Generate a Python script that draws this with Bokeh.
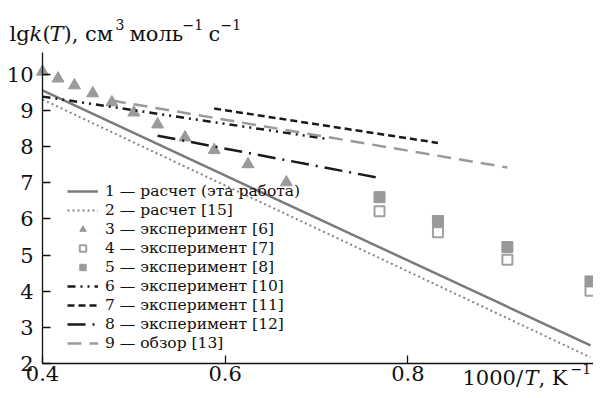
from bokeh.plotting import figure
from bokeh.models import Legend, LegendItem, Label, FixedTicker, Range1d
from bokeh.embed import file_html
from bokeh.resources import INLINE

# ---- data ----
x_calc = [0.4, 1.0]
y_calc1 = [9.55, 2.5]          # 1 — расчет (эта работа)
y_calc2 = [9.3, 2.17]          # 2 — расчет [15]

x_tri = [0.400, 0.417, 0.435, 0.455, 0.476, 0.500, 0.526, 0.556, 0.588, 0.625, 0.667]
y_tri = [10.07, 9.88, 9.69, 9.47, 9.22, 8.94, 8.61, 8.25, 7.90, 7.51, 7.01]   # 3

x_sq = [0.769, 0.833, 0.909, 1.0]
y_open = [6.21, 5.63, 4.87, 4.01]   # 4
y_fill = [6.60, 5.94, 5.22, 4.27]   # 5

x6 = [0.4, 0.714]
y6 = [9.38, 8.2]
x7 = [0.588, 0.833]
y7 = [9.05, 8.1]
x8 = [0.526, 0.769]
y8 = [8.3, 7.13]
x9 = [0.476, 0.909]
y9 = [9.27, 7.42]

labels = [
    "1 — расчет (эта работа)",
    "2 — расчет [15]",
    "3 — эксперимент [6]",
    "4 — эксперимент [7]",
    "5 — эксперимент [8]",
    "6 — эксперимент [10]",
    "7 — эксперимент [11]",
    "8 — эксперимент [12]",
    "9 — обзор [13]",
]
x_ticks = [0.4, 0.6, 0.8]
y_ticks = [2, 3, 4, 5, 6, 7, 8, 9, 10]

FONT = "DejaVu Serif"
W, H = 593, 390

p = figure(width=W, height=H, x_range=Range1d(0.354, 1.0033), y_range=Range1d(1.2533, 12.038),
           output_backend="svg", toolbar_location=None,
           min_border_left=0, min_border_right=0, min_border_top=0, min_border_bottom=0)
p.outline_line_color = None
p.grid.visible = False
p.background_fill_color = "white"

for ax in (p.xaxis[0], p.yaxis[0]):
    ax.axis_line_color = "#111111"
    ax.axis_line_width = 1.3
    ax.major_tick_line_color = "#111111"
    ax.major_tick_line_width = 1.3
    ax.major_tick_in = 8
    ax.major_tick_out = 0
    ax.minor_tick_line_color = None
    ax.major_label_text_font = FONT
    ax.major_label_text_font_size = "21px"
    ax.major_label_text_color = "#111111"

xa, ya = p.xaxis[0], p.yaxis[0]
xa.ticker = FixedTicker(ticks=x_ticks)
ya.ticker = FixedTicker(ticks=y_ticks)
xa.fixed_location = y_ticks[0]
ya.fixed_location = x_ticks[0]
xa.bounds = (0.4, 1.0033)
ya.bounds = (2, 10.6)
xa.major_label_standoff = 3
ya.major_label_standoff = 9
xa.major_label_overrides = {0.4: "0.4", 0.6: "0.6", 0.8: "0.8"}

r1 = p.line(x_calc, y_calc1, line_color="#7a7a7a", line_width=2.5)
r2 = p.line(x_calc, y_calc2, line_color="#858585", line_width=2, line_dash="2 3")
r3 = p.scatter(x_tri, y_tri, marker="triangle", size=12, fill_color="#9a9a9a", line_color="#9a9a9a")
r4 = p.scatter(x_sq, y_open, marker="square", size=10, fill_color="white", line_color="#a0a0a0", line_width=2)
r5 = p.scatter(x_sq, y_fill, marker="square", size=11, fill_color="#999999", line_color="#999999")
r6 = p.line(x6, y6, line_color="#1a1a1a", line_width=2.5, line_dash="8 5 2 5 2 5")
r7 = p.line(x7, y7, line_color="#1a1a1a", line_width=2.5, line_dash="7 4")
r8 = p.line(x8, y8, line_color="#1a1a1a", line_width=2.5, line_dash="18 7 2 7")
r9 = p.line(x9, y9, line_color="#9a9a9a", line_width=2.5, line_dash="14 8")

rs = [r1, r2, r3, r4, r5, r6, r7, r8, r9]
legend = Legend(items=[LegendItem(label=l, renderers=[r]) for l, r in zip(labels, rs)],
                location=(67, 38), padding=0, margin=0, spacing=0,
                label_height=19, glyph_height=16, glyph_width=31, label_standoff=7,
                label_text_font=FONT, label_text_font_size="15.5px", label_text_color="#111111",
                background_fill_alpha=0, border_line_alpha=0)
p.add_layout(legend, "center")

def lab(text, px, py, size, style="normal"):
    # px, py: picture pixel position (left, baseline); frame covers the canvas
    p.add_layout(Label(x=px, y=H - py, x_units="screen", y_units="screen",
                       text=text, text_font=FONT, text_font_size=size, text_font_style=style,
                       text_color="#111111", text_baseline="alphabetic", text_align="left"))

# y-axis title: lgk(T), см3 моль-1 с-1
TB = 33
lab("lg", 9, TB, "21px")
lab("k", 29, TB, "21px", "italic")
lab("(", 42, TB, "21px")
lab("T", 49, TB, "21px", "italic")
lab("), см", 63, TB, "21px")
lab("3", 115, TB - 9, "14px")
lab("моль", 129, TB, "21px")
lab("−1", 182, TB - 9, "14px")
lab("с", 208, TB, "21px")
lab("−1", 220, TB - 9, "14px")

# x-axis title: 1000/T, K-1
XB = 377
lab("1000/", 462, XB, "21px")
lab("T", 524, XB, "21px", "italic")
lab(", K", 538, XB, "21px")
lab("−1", 570, XB - 9, "14px")

open("out.html", "w").write(file_html(p, INLINE))
